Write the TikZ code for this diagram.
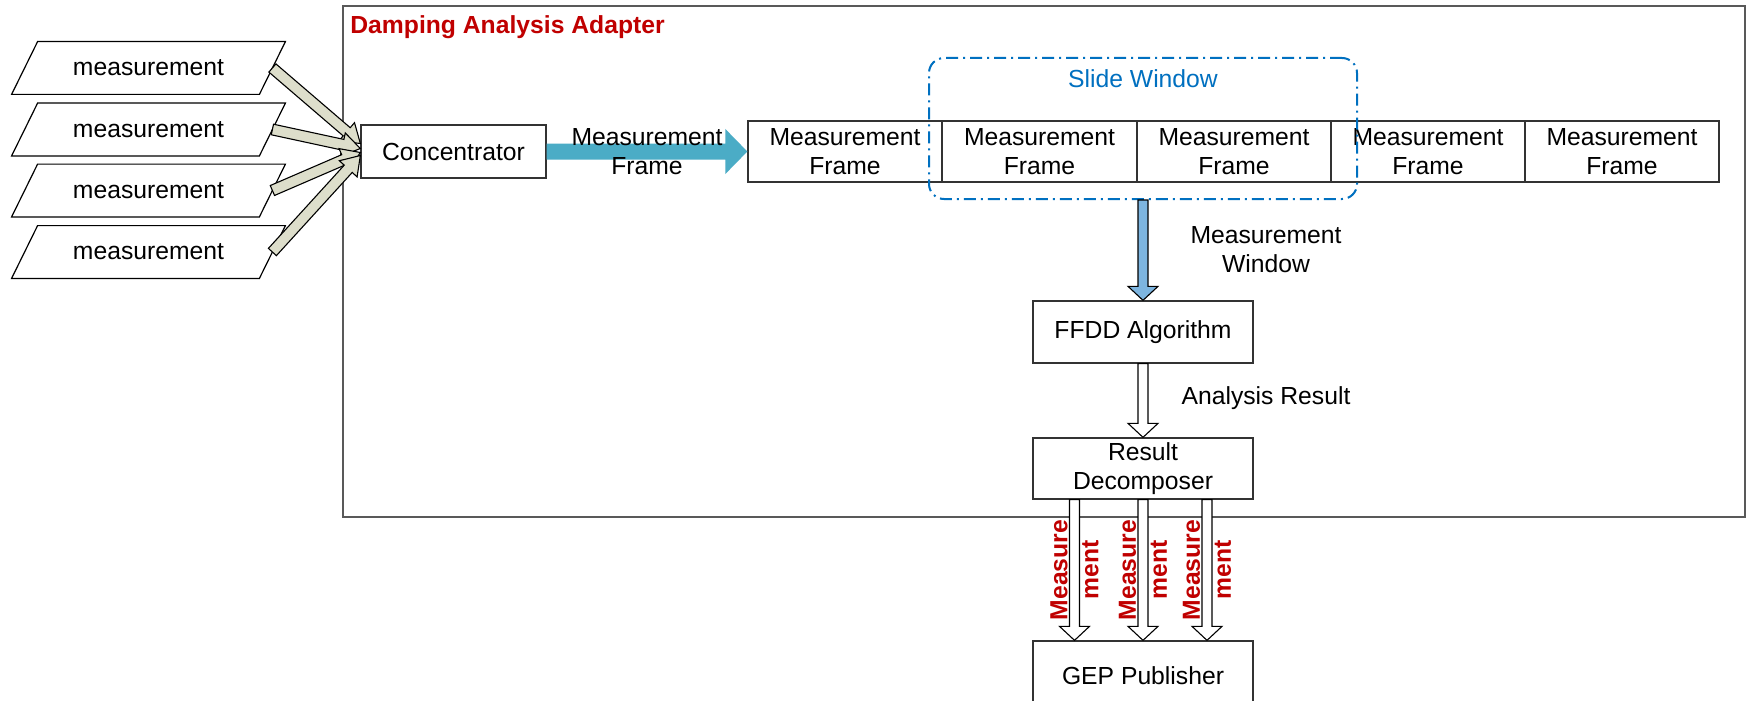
\documentclass[tikz,border=0pt]{standalone}
\usepackage{fontspec}
\setmainfont{Liberation Sans}
\usetikzlibrary{calc}

\definecolor{adred}{RGB}{192,0,0}
\definecolor{winblue}{RGB}{0,112,192}
\definecolor{framearrow}{RGB}{75,172,198}
\definecolor{winarrow}{RGB}{125,181,224}
\definecolor{inarrow}{RGB}{221,222,203}

% block arrow: #1 style, #2 tail, #3 tip, #4 half shaft, #5 half head, #6 head length
\newcommand\blockarrow[6]{%
  \coordinate (ba-s) at (#2);
  \coordinate (ba-e) at (#3);
  \coordinate (ba-h) at ($(ba-e)!#6!(ba-s)$);
  \path[#1] ($(ba-s)!#4!90:(ba-e)$) -- ($(ba-h)!#4!90:(ba-e)$)
    -- ($(ba-h)!#5!90:(ba-e)$) -- (ba-e) -- ($(ba-h)!#5!-90:(ba-e)$)
    -- ($(ba-h)!#4!-90:(ba-e)$) -- ($(ba-s)!#4!-90:(ba-e)$) -- cycle;
}

\begin{document}
\begin{tikzpicture}[x=0.5pt,y=-0.5pt,
  font=\fontsize{12.35}{14.5}\selectfont,
  box/.style={draw=black!80, line width=0.65pt, fill=white, align=center, inner sep=0pt},
  meas/.style={minimum width=123.5pt, minimum height=26pt, inner sep=0pt},
  lbl/.style={align=center, inner sep=0pt},
  redlbl/.style={align=center, inner sep=0pt, text=adred, rotate=90,
    font={\fontsize{12.35}{15.5}\selectfont\bfseries}},
  outline/.style={draw=black, line width=0.55pt}]

\clip (0,0) rectangle (1750,701);
\fill[white] (0,0) rectangle (1750,701);

% adapter frame and title
\node[draw=black!65, line width=0.65pt, minimum width=701pt, minimum height=255.5pt, inner sep=0pt] (adapter) at (1044,261.5) {};
\node[anchor=west, inner sep=0pt, text=adred, font={\fontsize{12.35}{14.5}\selectfont\bfseries}] (title) at (350,27) {Damping Analysis Adapter};

% incoming measurements
\foreach \i/\y in {1/68, 2/129.5, 3/190.5, 4/252} {
  \node[meas] (m\i) at (148.5,\y) {measurement};
  \draw[line width=0.6pt] ($(m\i.south west)+(-13,0)$) -- ($(m\i.south east)+(-13,0)$)
    -- ($(m\i.north east)+(13,0)$) -- ($(m\i.north west)+(13,0)$) -- cycle;
}

\node[box, minimum width=92.5pt, minimum height=26.5pt] (conc) at (453.5,151.5) {Concentrator};

\foreach \i/\d in {1/-8, 2/-3, 3/1, 4/4} {
  \coordinate (g\i) at ($(conc.west)+(0,\d)$);
  \blockarrow{fill=inarrow, outline}{m\i.east}{g\i}{2.7pt}{6pt}{9pt}
}

% frame queue
\foreach \i/\x in {1/845, 2/1039.5, 3/1234, 4/1428, 5/1622} {
  \node[box, minimum width=97pt, minimum height=30.5pt] (f\i) at (\x,151.5) {Measurement\\Frame};
}

\blockarrow{fill=framearrow}{conc.east}{f1.west}{4pt}{11.25pt}{11pt}
\node[lbl] (mfl) at ($(conc.east)!0.5!(f1.west)$) {Measurement\\Frame};

% sliding window
\node[draw=winblue, line width=1pt, dash pattern=on 6pt off 2.5pt on 1pt off 2.5pt,
  rounded corners=7.5pt, minimum width=214pt, minimum height=70.5pt, inner sep=0pt] (sw) at (1143,128.5) {};
\node[lbl, text=winblue] (swl) at (1143,79) {Slide Window};

% processing chain
\node[box, minimum width=110pt, minimum height=31pt] (ffdd) at (1143,332) {FFDD Algorithm};
\node[box, minimum width=110pt, minimum height=30.5pt] (rd) at (1143,468.5) {Result\\Decomposer};
\node[box, minimum width=110pt, minimum height=35pt] (gep) at (1143,676) {GEP Publisher};

\blockarrow{fill=winarrow, outline}{sw.south}{ffdd.north}{2.5pt}{7.5pt}{7pt}
\node[lbl] (mwl) at (1266,250) {Measurement\\Window};

\blockarrow{fill=white, outline}{ffdd.south}{rd.north}{2.5pt}{7.5pt}{7pt}
\node[lbl] (arl) at (1266,398) {Analysis Result};

% published measurements
\foreach \i/\dx in {1/-68.5, 2/0, 3/64} {
  \coordinate (d\i) at ($(rd.south)+(\dx,0)$);
  \coordinate (e\i) at ($(gep.north)+(\dx,0)$);
  \blockarrow{fill=white, outline}{d\i}{e\i}{2.5pt}{7.5pt}{7pt}
  \node[redlbl] (ml\i) at ($(d\i)!0.5!(e\i)$) {Measure\\ment};
}

\end{tikzpicture}
\end{document}
